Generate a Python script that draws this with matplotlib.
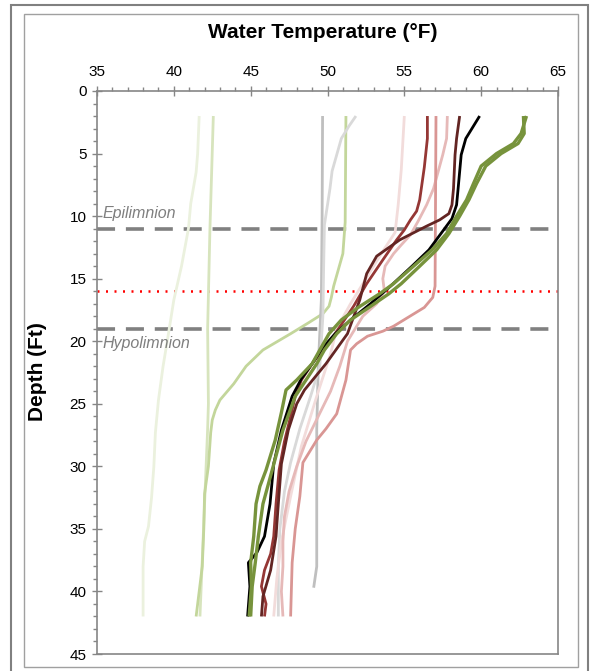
import matplotlib
matplotlib.use("Agg")
import matplotlib.pyplot as plt
from matplotlib.patches import Rectangle
from matplotlib.ticker import MultipleLocator

plt.rcParams['font.family'] = ['Liberation Sans', 'DejaVu Sans']

# --- profiles: depth (ft) and temperature (F) ---
vlgreen_d = [2, 5, 6.5, 9, 11, 14, 16.7, 19.4, 22, 24.7, 27.3, 30, 32.5, 34.8, 36, 38, 42]
vlgreen_t = [41.65, 41.55, 41.45, 41.1, 40.95, 40.5, 40.0, 39.65, 39.3, 39.0, 38.8, 38.7, 38.55, 38.35, 38.1, 38.0, 38.0]

lgreen_d = [2, 11, 19, 25, 27, 30, 33, 36, 39, 42]
lgreen_t = [42.57, 42.35, 42.2, 42.25, 42.2, 42.1, 42.0, 41.9, 41.8, 41.7]

mgreen_d = [2, 10.5, 13, 14.3, 15.6, 16.5, 17.2, 17.8, 18.5, 19.4, 20.7, 22, 23.4, 24.7, 25.5, 26.3, 27.3, 30, 32.2, 35, 38, 42]
mgreen_t = [51.2, 51.15, 51.0, 50.7, 50.4, 50.25, 50.1, 49.7, 48.8, 47.6, 45.8, 44.7, 43.9, 43.0, 42.7, 42.5, 42.4, 42.25, 42.0, 41.95, 41.85, 41.45]

gray_d = [2, 10, 16.7, 22, 27, 33, 38, 39.7]
gray_t = [49.68, 49.65, 49.6, 49.4, 49.3, 49.3, 49.3, 49.1]

vlgray_d = [2, 2.8, 3.8, 5.1, 6.4, 7.8, 9.1, 10.7, 14, 18, 22, 24.4, 27, 29.7, 32, 35, 38, 42]
vlgray_t = [51.85, 51.4, 50.9, 50.6, 50.3, 50.16, 50.0, 49.8, 49.75, 49.7, 49.5, 48.9, 48.2, 47.6, 47.2, 46.9, 46.8, 46.8]

lpink_d = [2, 6.3, 9.1, 11.3, 13, 15, 17, 19, 21, 24.4, 28.4, 32.4, 36, 39, 42]
lpink_t = [55.0, 54.8, 54.6, 54.4, 53.5, 52.5, 51.5, 50.6, 50.2, 49.3, 48.3, 47.6, 47.0, 46.7, 46.5]

lpink2_d = [2, 3.8, 5.1, 6.45, 7.8, 9.1, 10.4, 11.5, 12.3, 13, 14, 15, 16, 17, 18, 20, 22, 24, 26, 28, 30, 32, 34, 36, 38, 40, 42]
lpink2_t = [57.8, 57.75, 57.5, 57.2, 56.9, 56.45, 55.9, 55.4, 54.8, 54.3, 53.75, 53.6, 53.7, 53.2, 52.3, 51.3, 50.8, 50.2, 49.4, 48.6, 48.0, 47.5, 47.2, 47.1, 47.1, 47.0, 47.1]

pink_d = [2, 15.6, 16.5, 17.3, 18.2, 18.8, 19.2, 19.6, 20.2, 20.7, 23.1, 25.8, 27.0, 27.9, 29.7, 32.4, 35, 37.7, 42]
pink_t = [57.06, 57.0, 56.85, 56.3, 55.1, 54.3, 53.6, 52.6, 51.9, 51.5, 51.2, 50.6, 49.9, 49.3, 48.4, 48.2, 47.9, 47.7, 47.6]

dred_d = [2, 3.8, 6.1, 8.7, 9.6, 10.3, 11.1, 11.9, 13.5, 15.4, 17.2, 19.4, 21.8, 23.1, 24.4, 26, 28, 30.3, 33, 35.6, 37, 38.3, 39.6, 41, 42]
dred_t = [56.5, 56.5, 56.3, 56.0, 55.8, 55.4, 55.0, 54.5, 53.6, 52.55, 51.7, 50.5, 49.0, 48.3, 47.9, 47.6, 47.2, 46.85, 46.65, 46.5, 46.3, 45.9, 45.7, 46.0, 45.9]

maroon_d = [2, 3.8, 5.1, 7.8, 9.1, 9.8, 10.3, 10.8, 11.9, 13.2, 14.6, 16.7, 19.4, 21.8, 23.9, 25, 27.1, 29.8, 33, 35.6, 38.3, 40.4, 42]
maroon_t = [58.6, 58.4, 58.3, 58.2, 58.1, 57.9, 57.3, 56.45, 54.7, 53.2, 52.55, 52.1, 51.3, 49.9, 48.5, 48.0, 47.45, 47.0, 46.8, 46.65, 46.3, 45.8, 45.7]

black_d = [2, 3.0, 3.8, 5.1, 6.45, 7.8, 9.1, 10.2, 11.2, 12.7, 14, 15.6, 17, 18.3, 19.4, 20.5, 21.8, 23, 24.4, 27.1, 29.8, 33, 35.6, 36.9, 37.7, 39.6, 42]
black_t = [59.9, 59.4, 59.0, 58.7, 58.6, 58.5, 58.4, 58.1, 57.5, 56.6, 55.5, 54.1, 52.8, 51.5, 50.5, 49.7, 49.0, 48.3, 47.7, 47.0, 46.5, 46.26, 45.9, 45.4, 44.85, 44.95, 44.8]

oliveA_d = [2, 3.4, 4.2, 5.0, 6.0, 7.4, 8.7, 10, 11.4, 12.7, 14, 15.4, 16.2, 17.3, 18.3, 19.4, 20.7, 21.8, 23.1, 23.9, 25.7, 27.9, 30.3, 31.6, 33, 35.6, 37.7, 39.6, 42]
oliveA_t = [62.95, 62.6, 62.1, 61.0, 60.0, 59.5, 59.05, 58.4, 57.75, 56.8, 55.6, 54.3, 53.4, 52.0, 50.9, 50.1, 49.5, 49.0, 48.0, 47.3, 47.0, 46.6, 46.0, 45.6, 45.35, 45.2, 45.0, 45.05, 44.9]

oliveB_d = [2, 3.4, 4.2, 5, 6, 7.4, 8.7, 10, 11.4, 12.7, 14, 15.4, 16.2, 17.3, 18.3, 19.4, 20.7, 21.8, 23.1, 24.4, 27.1, 30.3, 33, 35.6, 37.7, 39.6, 42]
oliveB_t = [62.75, 62.8, 62.4, 61.3, 60.3, 59.7, 59.2, 58.6, 57.9, 57.1, 56.0, 54.8, 54.0, 52.7, 51.5, 50.6, 49.8, 49.3, 48.6, 47.9, 47.1, 46.4, 45.8, 45.5, 45.3, 45.1, 45.0]

profiles = [
    (vlgreen_d, vlgreen_t, '#ebf1de', 2.0),
    (lgreen_d, lgreen_t, '#d7e4bd', 2.0),
    (mgreen_d, mgreen_t, '#c3d69b', 2.0),
    (gray_d, gray_t, '#bfbfbf', 2.0),
    (vlgray_d, vlgray_t, '#d9d9d9', 2.0),
    (lpink_d, lpink_t, '#f2dcdb', 2.0),
    (lpink2_d, lpink2_t, '#e6b9b8', 2.0),
    (pink_d, pink_t, '#d99694', 2.0),
    (dred_d, dred_t, '#953735', 2.0),
    (maroon_d, maroon_t, '#632523', 2.0),
    (black_d, black_t, '#000000', 2.0),
    (oliveA_d, oliveA_t, '#77933c', 2.4),
    (oliveB_d, oliveB_t, '#77933c', 2.4),
]

epi_depth = 11
meta_depth = 16
hypo_depth = 19

fig = plt.figure(figsize=(5.91, 6.71), dpi=100)

# frames around the chart
fig.patches.append(Rectangle((11 / 591, -0.05), (588 - 11) / 591, 1.05 - 5 / 671,
                             transform=fig.transFigure, fill=False,
                             edgecolor='#808080', linewidth=1.5))
fig.patches.append(Rectangle((24 / 591, 1 - 667 / 671), (578 - 24) / 591, (667 - 14) / 671,
                             transform=fig.transFigure, fill=False,
                             edgecolor='#a0a0a0', linewidth=1.0))

ax = fig.add_axes([97 / 591, 1 - 654 / 671, (558 - 97) / 591, (654 - 91) / 671])

for d, t, c, lw in profiles:
    ax.plot(t, d, color=c, linewidth=lw, solid_capstyle='butt',
            solid_joinstyle='round', zorder=3)

ax.axhline(epi_depth, color='#808080', linewidth=2.6, dashes=(5, 3), zorder=2)
ax.axhline(hypo_depth, color='#808080', linewidth=2.6, dashes=(5, 3), zorder=2)
ax.axhline(meta_depth, color='#ff0000', linewidth=1.8, dashes=(0.8, 2.6), zorder=2)

ax.text(35.35, 9.8, 'Epilimnion', color='#7f7f7f', fontsize=11.5, style='italic',
        va='center', ha='left')
ax.text(35.35, 20.2, 'Hypolimnion', color='#7f7f7f', fontsize=11.5, style='italic',
        va='center', ha='left')

ax.set_xlim(35, 65)
ax.set_ylim(45, 0)
ax.xaxis.tick_top()
ax.xaxis.set_major_locator(MultipleLocator(5))
ax.xaxis.set_minor_locator(MultipleLocator(1))
ax.yaxis.set_major_locator(MultipleLocator(5))
ax.yaxis.set_minor_locator(MultipleLocator(1))
ax.tick_params(which='major', direction='inout', length=7, width=1, color='#868686',
               labelsize=11, pad=4)
ax.tick_params(which='minor', direction='out', length=3, width=1, color='#868686')
ax.tick_params(axis='x', which='major', pad=5)
for s in ax.spines.values():
    s.set_color('#868686')
    s.set_linewidth(1.2)

fig.text(323 / 591, 1 - 33 / 671, 'Water Temperature (°F)', fontsize=15,
         fontweight='bold', ha='center', va='center')
fig.text(38 / 591, 1 - 372 / 671, 'Depth (Ft)', fontsize=15, fontweight='bold',
         rotation=90, ha='center', va='center')

fig.savefig('out.png', dpi=100)
